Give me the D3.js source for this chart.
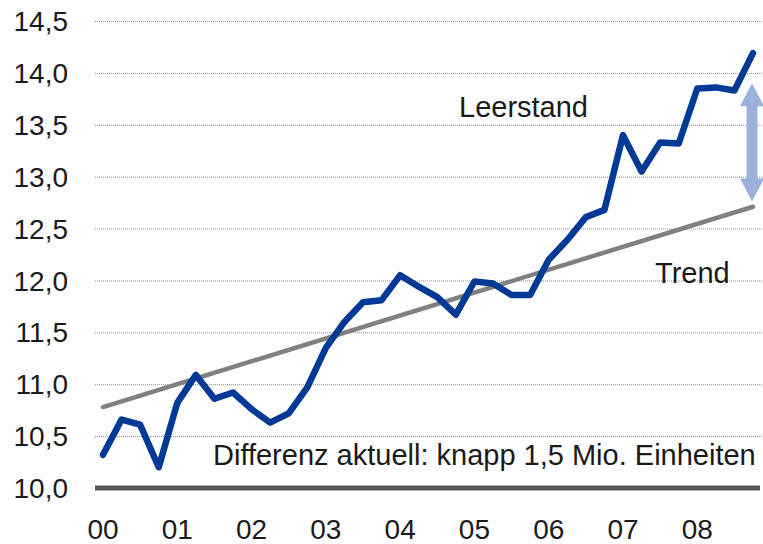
<!DOCTYPE html>
<html>
<head>
<meta charset="utf-8">
<script src="https://cdn.jsdelivr.net/npm/d3@7"></script>
<style>
	body { margin: 0; background: #fff; }
	text { font-family: "Liberation Sans", Arial, sans-serif; fill: #1a1a1a; }
</style>
</head>
<body>
<div id="chart"></div>
<script>
// quarterly values 2000 Q1 .. 2008 Q4
const leerstand = [10.32, 10.66, 10.61, 10.2, 10.82, 11.09, 10.86, 10.92,
	10.76, 10.63, 10.72, 10.97, 11.35, 11.6, 11.79, 11.81,
	12.05, 11.94, 11.84, 11.67, 11.99, 11.97, 11.86, 11.86,
	12.2, 12.39, 12.61, 12.68, 13.40, 13.05, 13.33, 13.32,
	13.85, 13.86, 13.83, 14.19];
const trend = [10.78, 12.71]; // start / end of the linear trend
const yearLabels = ["00", "01", "02", "03", "04", "05", "06", "07", "08"];
const yTicks = [10, 10.5, 11, 11.5, 12, 12.5, 13, 13.5, 14, 14.5];
const arrowRange = [12.76, 13.9];

const W = 763, H = 544;

const svg = d3.select("#chart")
	.append("svg")
	.attr("width", W)
	.attr("height", H);

const x = d3.scaleLinear()
	.domain([0, leerstand.length - 1])
	.range([103, 753]);

const y = d3.scaleLinear()
	.domain([10, 14.5])
	.range([488, 21]);

const fmt = d => d.toFixed(1).replace(".", ",");

// gridlines
svg.append("g")
	.selectAll("line")
	.data(yTicks.filter(d => d > 10))
	.enter()
	.append("line")
	.attr("x1", 95)
	.attr("x2", W)
	.attr("y1", d => y(d) + 0.5)
	.attr("y2", d => y(d) + 0.5)
	.attr("stroke", "#8a8a8a")
	.attr("stroke-width", 1)
	.attr("stroke-dasharray", "1,1");

// y labels
svg.append("g")
	.selectAll("text")
	.data(yTicks)
	.enter()
	.append("text")
	.attr("x", 68)
	.attr("y", d => y(d))
	.attr("dy", "0.36em")
	.attr("text-anchor", "end")
	.attr("font-size", "28px")
	.text(fmt);

// x labels
svg.append("g")
	.selectAll("text")
	.data(yearLabels)
	.enter()
	.append("text")
	.attr("x", (d, i) => x(i * 4))
	.attr("y", 539)
	.attr("text-anchor", "middle")
	.attr("font-size", "28px")
	.text(d => d);

// baseline
svg.append("line")
	.attr("x1", 95)
	.attr("x2", 760)
	.attr("y1", y(10))
	.attr("y2", y(10))
	.attr("stroke", "#555")
	.attr("stroke-width", 5);

// trend
svg.append("line")
	.attr("x1", x(0))
	.attr("x2", x(leerstand.length - 1))
	.attr("y1", y(trend[0]))
	.attr("y2", y(trend[1]))
	.attr("stroke", "#808080")
	.attr("stroke-width", 4.5)
	.attr("stroke-linecap", "round");

// leerstand line
const line = d3.line()
	.x((d, i) => x(i))
	.y(d => y(d));

svg.append("path")
	.datum(leerstand)
	.attr("d", line)
	.attr("fill", "none")
	.attr("stroke", "#003a96")
	.attr("stroke-width", 6.5)
	.attr("stroke-linejoin", "round")
	.attr("stroke-linecap", "round");

// double arrow
const ax = 752, aTop = y(arrowRange[1]), aBot = y(arrowRange[0]);
const hw = 12, sw = 5.5, hh = 23;
svg.append("path")
	.attr("d", `M${ax},${aTop} L${ax + hw},${aTop + hh} L${ax + sw},${aTop + hh}
		L${ax + sw},${aBot - hh} L${ax + hw},${aBot - hh} L${ax},${aBot}
		L${ax - hw},${aBot - hh} L${ax - sw},${aBot - hh} L${ax - sw},${aTop + hh}
		L${ax - hw},${aTop + hh} Z`)
	.attr("fill", "#9bb1da");

// annotations
svg.append("text")
	.attr("x", 459)
	.attr("y", 117)
	.attr("font-size", "29px")
	.text("Leerstand");

svg.append("text")
	.attr("x", 655)
	.attr("y", 283)
	.attr("font-size", "29px")
	.text("Trend");

svg.append("text")
	.attr("x", 213)
	.attr("y", 465)
	.attr("font-size", "29px")
	.text("Differenz aktuell: knapp 1,5 Mio. Einheiten");
</script>
</body>
</html>
